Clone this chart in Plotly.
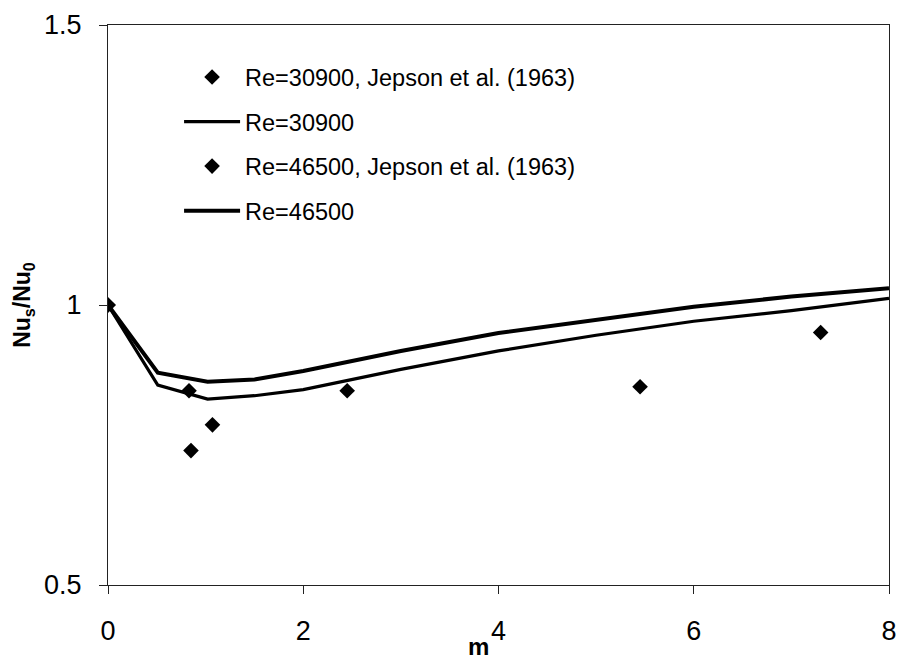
import plotly.graph_objects as go

# Experimental data (Jepson et al. 1963)
m_exp_30900 = [0.0, 0.85, 1.07, 5.45]
nu_exp_30900 = [1.0, 0.740, 0.786, 0.854]
m_exp_46500 = [0.0, 0.83, 2.45, 7.30]
nu_exp_46500 = [1.0, 0.847, 0.847, 0.951]

# Model curves
m_line = [0.0, 0.51, 1.02, 1.5, 2.0, 3.0, 4.0, 5.0, 6.0, 7.0, 8.0]
nu_30900 = [1.0, 0.857, 0.832, 0.838, 0.849, 0.885, 0.918, 0.946, 0.971, 0.990, 1.012]
nu_46500 = [1.0, 0.879, 0.863, 0.867, 0.882, 0.918, 0.950, 0.973, 0.997, 1.015, 1.030]

FONT = "Liberation Sans, Arial, sans-serif"

fig = go.Figure()
fig.add_trace(go.Scatter(x=m_exp_30900, y=nu_exp_30900, mode="markers",
                         name="Re=30900, Jepson et al. (1963)", legendgroup="a",
                         marker=dict(symbol="diamond", size=12, color="black")))
fig.add_trace(go.Scatter(x=m_line, y=nu_30900, mode="lines", name="Re=30900",
                         legendgroup="b", line=dict(color="black", width=3.2)))
fig.add_trace(go.Scatter(x=m_exp_46500, y=nu_exp_46500, mode="markers",
                         name="Re=46500, Jepson et al. (1963)", legendgroup="c",
                         marker=dict(symbol="diamond", size=12, color="black")))
fig.add_trace(go.Scatter(x=m_line, y=nu_46500, mode="lines", name="Re=46500",
                         legendgroup="d", line=dict(color="black", width=4)))

fig.update_layout(
    width=907, height=662,
    margin=dict(l=108, r=10, t=25, b=77),
    paper_bgcolor="white", plot_bgcolor="white",
    font=dict(family=FONT, size=25, color="black"),
    showlegend=True,
    legend=dict(x=0.091, y=0.946, xanchor="left", yanchor="top",
                bgcolor="rgba(0,0,0,0)", font=dict(size=23.5, family=FONT),
                tracegroupgap=11, itemwidth=56),
    xaxis=dict(range=[0, 8], tickvals=[0, 2, 4, 6, 8], showgrid=False, zeroline=False,
               showline=True, linecolor="#222", linewidth=1, mirror=True,
               ticks="outside", ticklen=8, tickcolor="#222", ticklabelstandoff=14,
               tickfont=dict(size=27)),
    yaxis=dict(range=[0.5, 1.5], tickvals=[0.5, 1, 1.5], ticktext=["0.5", "1", "1.5"],
               showgrid=False, zeroline=False,
               showline=True, linecolor="#222", linewidth=1, mirror=True,
               ticks="outside", ticklen=8, tickcolor="#222", ticklabelstandoff=12,
               tickfont=dict(size=27)),
    annotations=[
        dict(text="<b>m</b>", xref="paper", yref="paper", x=0.474, y=-0.1375,
             xanchor="center", yanchor="bottom", showarrow=False,
             font=dict(size=24, family=FONT)),
        dict(text="<b>Nu<sub>s</sub>/Nu<sub>0</sub></b>", xref="paper", yref="paper",
             x=-0.109, y=0.5, xanchor="center", yanchor="middle", textangle=-90,
             showarrow=False, font=dict(size=23, family=FONT)),
    ],
)

fig.write_html("out.html", config={"displayModeBar": False},
               post_script="document.body.style.margin='0';document.body.style.padding='0';")
